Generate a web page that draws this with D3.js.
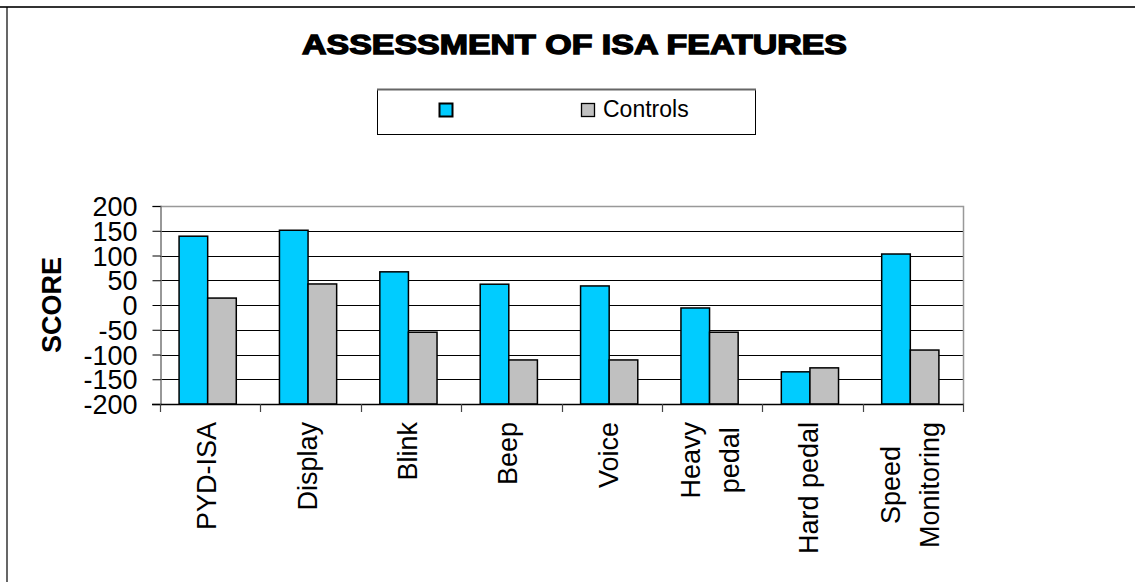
<!DOCTYPE html>
<html>
<head>
<meta charset="utf-8">
<script src="https://cdn.jsdelivr.net/npm/d3@7"></script>
<style>
  body { margin: 0; background: #fff; }
  text { font-family: "Liberation Sans", Arial, sans-serif; fill: #000; }
</style>
</head>
<body>
<div id="chart"></div>
<script>
// chart data
var categories = ["PYD-ISA", "Display", "Blink", "Beep", "Voice", "Heavy pedal", "Hard pedal", "Speed Monitoring"];
// how the category labels wrap
var categoryLines = [["PYD-ISA"], ["Display"], ["Blink"], ["Beep"], ["Voice"], ["Heavy", "pedal"], ["Hard pedal"], ["Speed", "Monitoring"]];
var seriesNames = ["", "Controls"];
var isaScores = [139, 151, 67, 42, 38.5, -6, -135, 103];
var controlScores = [14, 42.5, -55, -111, -111, -55, -127, -91];
var yTicks = [-200, -150, -100, -50, 0, 50, 100, 150, 200];
var colors = ["#00CCFF", "#C0C0C0"];

var svgWidth = 1135;
var svgHeight = 582;

// plot area
var plot = { left: 160, right: 963, top: 206, bottom: 404 };

var svg = d3.select("#chart")
  .append("svg")
  .attr("width", svgWidth)
  .attr("height", svgHeight);

// outer frame (top and left only)
svg.append("line")
  .attr("x1", 0).attr("x2", svgWidth)
  .attr("y1", 7).attr("y2", 7)
  .attr("stroke", "#333").attr("stroke-width", 2);
svg.append("line")
  .attr("x1", 7).attr("x2", 7)
  .attr("y1", 7).attr("y2", svgHeight)
  .attr("stroke", "#000").attr("stroke-width", 1.2);

// title
svg.append("text")
  .attr("x", 302)
  .attr("y", 54)
  .attr("textLength", 545)
  .attr("lengthAdjust", "spacingAndGlyphs")
  .style("font-size", "28px")
  .style("font-weight", "bold")
  .style("stroke", "#000")
  .style("stroke-width", "1.4px")
  .text("ASSESSMENT OF ISA FEATURES");

// legend
var legend = svg.append("g");
legend.append("rect")
  .attr("x", 377.5).attr("y", 89.5)
  .attr("width", 378).attr("height", 45)
  .attr("fill", "#fff")
  .attr("stroke", "#000").attr("stroke-width", 1);
legend.append("line")
  .attr("x1", 377).attr("x2", 756)
  .attr("y1", 89.5).attr("y2", 89.5)
  .attr("stroke", "#666").attr("stroke-width", 2);

var legendX = [439, 581];
seriesNames.forEach(function(name, i) {
  legend.append("rect")
    .attr("x", legendX[i] + 0.5).attr("y", 103.5)
    .attr("width", 13).attr("height", 13)
    .attr("fill", colors[i])
    .attr("stroke", "#000").attr("stroke-width", i === 0 ? 2 : 1.3);
  legend.append("text")
    .attr("x", legendX[i] + 22)
    .attr("y", 117)
    .style("font-size", "23px")
    .text(name);
});

// scales
var x0 = d3.scaleBand()
  .domain(categories)
  .range([plot.left, plot.right])
  .padding(0);

var bw = x0.bandwidth();
var x1 = d3.scaleBand()
  .domain([0, 1])
  .range([bw * 0.19, bw * 0.76])
  .padding(0);

var y = d3.scaleLinear()
  .domain([-200, 200])
  .range([plot.bottom, plot.top]);

// gridlines
svg.append("g")
  .selectAll("line")
  .data(yTicks.filter(function(d) { return d > -200 && d < 200; }))
  .enter()
  .append("line")
  .attr("x1", plot.left).attr("x2", plot.right)
  .attr("y1", function(d) { return Math.round(y(d)) + 0.5; })
  .attr("y2", function(d) { return Math.round(y(d)) + 0.5; })
  .attr("stroke", "#000").attr("stroke-width", 1);

// plot border top/right
svg.append("path")
  .attr("d", "M" + plot.left + "," + (plot.top + 0.5) + "H" + (plot.right + 0.5) + "V" + plot.bottom)
  .attr("fill", "none")
  .attr("stroke", "#999").attr("stroke-width", 1.5);

// bars
var rows = categories.map(function(c, i) {
  return { cat: c, values: [isaScores[i], controlScores[i]] };
});

var groups = svg.append("g")
  .selectAll("g")
  .data(rows)
  .enter()
  .append("g")
  .attr("transform", function(d) { return "translate(" + x0(d.cat) + ",0)"; });

groups.selectAll("rect")
  .data(function(d) { return d.values.map(function(v, k) { return { k: k, v: v }; }); })
  .enter()
  .append("rect")
  .attr("x", function(d) { return x1(d.k); })
  .attr("width", x1.bandwidth())
  .attr("y", function(d) { return y(d.v); })
  .attr("height", function(d) { return y(-200) - y(d.v); })
  .attr("fill", function(d) { return colors[d.k]; })
  .attr("stroke", "#000")
  .attr("stroke-width", 1.5);

// y axis
var leftAxis = d3.axisLeft(y)
  .tickValues(yTicks)
  .tickSize(8)
  .tickPadding(15)
  .tickFormat(function(d) { return String(d); });

var yAxis = svg.append("g")
  .attr("transform", "translate(" + (plot.left + 0.5) + ",0)")
  .call(leftAxis);
yAxis.select(".domain").attr("stroke", "#777").attr("stroke-width", 1.5);
yAxis.selectAll(".tick line").attr("stroke", "#000");
yAxis.selectAll(".tick text")
  .style("font-size", "27px")
  .style("font-family", "'Liberation Sans', Arial, sans-serif")
  .attr("fill", "#000")
  .attr("dy", "0.36em");

// y axis title
svg.append("text")
  .attr("transform", "translate(61,305) rotate(-90)")
  .attr("text-anchor", "middle")
  .style("font-size", "27px")
  .style("font-weight", "bold")
  .text("SCORE");

// x axis line and ticks
svg.append("line")
  .attr("x1", plot.left - 8).attr("x2", plot.right + 1)
  .attr("y1", plot.bottom + 0.5).attr("y2", plot.bottom + 0.5)
  .attr("stroke", "#000").attr("stroke-width", 1.5);

var bounds = categories.map(function(c) { return x0(c); }).concat([plot.right]);
svg.append("g")
  .selectAll("line")
  .data(bounds)
  .enter()
  .append("line")
  .attr("x1", function(d) { return Math.round(d) + 0.5; })
  .attr("x2", function(d) { return Math.round(d) + 0.5; })
  .attr("y1", plot.bottom)
  .attr("y2", plot.bottom + 8)
  .attr("stroke", "#444").attr("stroke-width", 1.2);

// category labels, rotated, top aligned
var labelTop = 422;
var lineGap = 39;
categoryLines.forEach(function(lines, i) {
  var cx = x0(categories[i]) + bw / 2;
  var g = svg.append("g");
  var texts = lines.map(function(line) {
    return g.append("text")
      .attr("text-anchor", "middle")
      .style("font-size", "27px")
      .text(line);
  });
  var maxLen = d3.max(texts, function(t) { return t.node().getComputedTextLength(); });
  var cy = labelTop + maxLen / 2;
  texts.forEach(function(t, k) {
    var off = 7 + (k - (lines.length - 1) / 2) * lineGap;
    if (lines.length === 1) off = 6;
    t.attr("transform", "translate(" + (cx + off) + "," + cy + ") rotate(-90)");
  });
});
</script>
</body>
</html>
